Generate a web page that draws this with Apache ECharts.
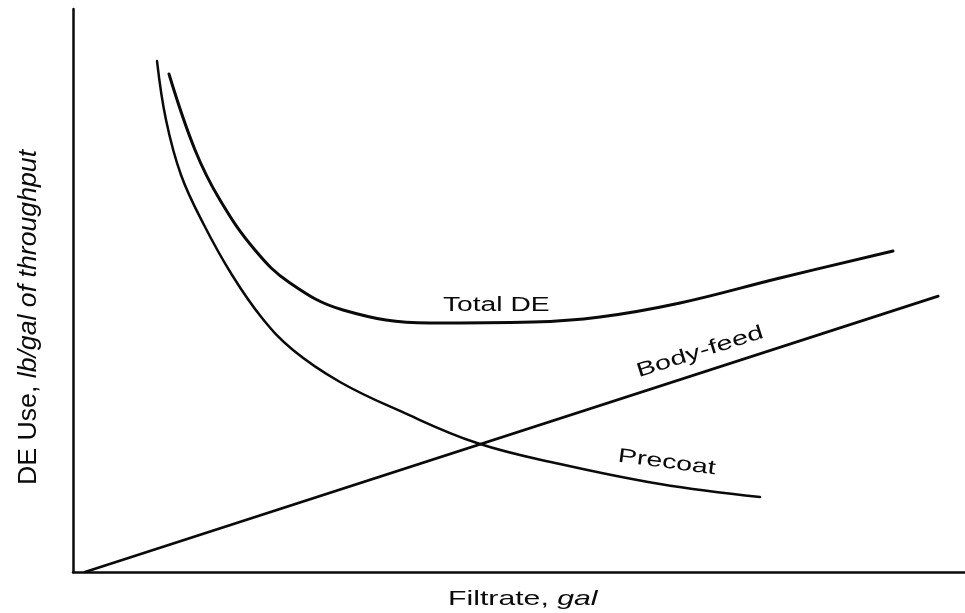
<!DOCTYPE html>
<html>
<head>
<meta charset="utf-8">
<script src="https://cdn.jsdelivr.net/npm/echarts@6/dist/echarts.min.js"></script>
<style>html,body{margin:0;padding:0;background:#fff;}#chart{width:965px;height:613px;}</style>
</head>
<body>
<div id="chart"></div>
<script>
// Values, in arbitrary relative units (0-100 on both axes; no ticks shown)
var precoatX = [9.42, 10.43, 12.11, 14.69, 17.83, 21.19, 24.66, 29.93, 36.66, 45.29, 54.60, 65.81, 77.02];
var precoatY = [90.76, 80.28, 70.52, 61.63, 52.75, 45.12, 39.43, 33.75, 28.60, 22.91, 19.18, 15.63, 13.32];
var totalX = [10.76, 13.68, 16.48, 20.40, 24.33, 30.27, 40.02, 51.57, 59.08, 68.05, 79.26, 91.93];
var totalY = [88.45, 74.96, 66.07, 57.19, 51.33, 46.54, 44.23, 44.40, 45.29, 47.78, 52.22, 57.02];
var bodyX = [1.35, 97.0];
var bodyY = [0, 49.0];

var xName = 'Filtrate, ';
var xNameItalic = 'gal';
var yName = 'DE Use, ';
var yNameItalic = 'lb/gal of throughput';
var seriesNames = ['Total DE', 'Body-feed', 'Precoat'];

function zip(xs, ys) { return xs.map(function (x, i) { return [x, ys[i]]; }); }

var chart = echarts.init(document.getElementById('chart'), null, { renderer: 'canvas' });
var FONT = 'Liberation Sans, Arial, Helvetica, sans-serif';
var INK = '#0a0a0a';
var axisCommon = {
  type: 'value', min: 0, max: 100,
  axisTick: { show: false }, axisLabel: { show: false }, splitLine: { show: false },
  axisLine: { show: true, lineStyle: { color: INK, width: 2.5 } }
};
function lineSeries(name, data, width, smooth) {
  return {
    name: name, type: 'line', data: data, smooth: smooth,
    showSymbol: false, symbol: 'none',
    lineStyle: { color: INK, width: width, join: 'round', cap: 'round' }, silent: true
  };
}
chart.setOption({
  animation: false,
  backgroundColor: '#fff',
  grid: { left: 73, right: 0, top: 9, bottom: 41, containLabel: false, outerBoundsMode: 'none' },
  xAxis: axisCommon,
  yAxis: axisCommon,
  series: [
    lineSeries(seriesNames[0], zip(totalX, totalY), 3, 0.4),
    lineSeries(seriesNames[1], zip(bodyX, bodyY), 2.7, false),
    lineSeries(seriesNames[2], zip(precoatX, precoatY), 2.5, 0.4)
  ],
  graphic: [
    { type: 'text', x: 443, y: 305, scaleX: 1.41, silent: true,
      style: { text: seriesNames[0], fontSize: 20, fontFamily: FONT, fill: INK, textAlign: 'left', verticalAlign: 'middle' } },
    { type: 'text', x: 637, y: 372, rotation: 0.307, scaleX: 1.45, silent: true,
      style: { text: seriesNames[1], fontSize: 20, fontFamily: FONT, fill: INK, textAlign: 'left', verticalAlign: 'middle' } },
    { type: 'text', x: 618, y: 456, rotation: -0.131, scaleX: 1.43, silent: true,
      style: { text: seriesNames[2], fontSize: 20, fontFamily: FONT, fill: INK, textAlign: 'left', verticalAlign: 'middle' } },
    { type: 'text', x: 448, y: 599, scaleX: 1.44, silent: true,
      style: { text: xName + '{i|' + xNameItalic + '}', fontSize: 21, fontFamily: FONT, fill: INK, textAlign: 'left', verticalAlign: 'middle',
        rich: { i: { fontStyle: 'italic', fontSize: 21, fontFamily: FONT, fill: INK } } } },
    { type: 'text', x: 29, y: 485, rotation: Math.PI / 2, scaleX: 1.27, scaleY: 1.2, silent: true,
      style: { text: yName + '{i|' + yNameItalic + '}', fontSize: 21, fontFamily: FONT, fill: INK, textAlign: 'left', verticalAlign: 'middle',
        rich: { i: { fontStyle: 'italic', fontSize: 21, fontFamily: FONT, fill: INK } } } }
  ]
});
</script>
</body>
</html>
